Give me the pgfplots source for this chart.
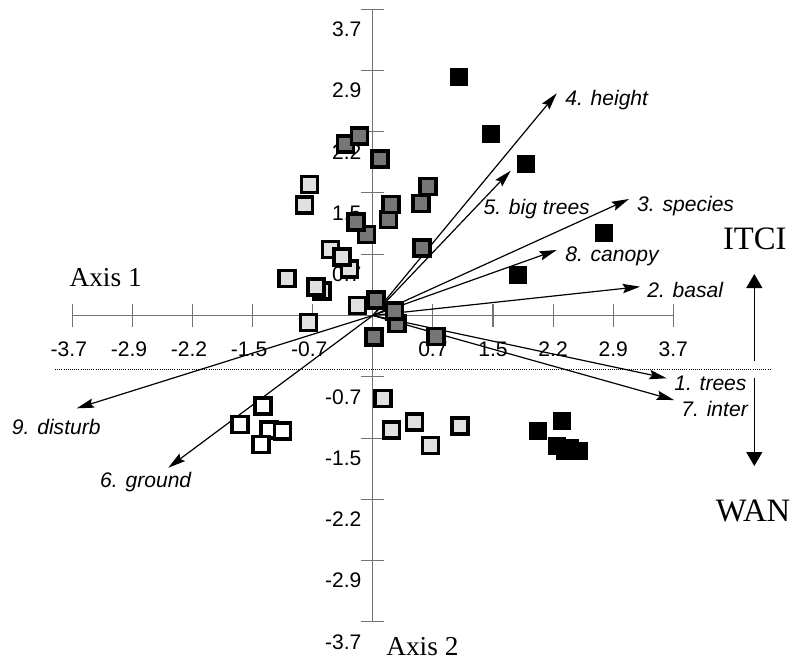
\documentclass[border=0pt]{standalone}
\usepackage{fontspec}
\setmainfont{Liberation Serif}
\setsansfont{Liberation Sans}
\usepackage{pgfplots}
\pgfplotsset{compat=1.18}
\usetikzlibrary{arrows.meta}

\begin{document}
\begin{tikzpicture}

\definecolor{axisgray}{RGB}{115,115,115}
\definecolor{darkstip}{RGB}{118,118,118}
\definecolor{lightstip}{RGB}{225,225,225}

\tikzset{
  lab/.style={font=\sffamily\itshape\fontsize{15.8}{18}\selectfont, inner sep=0pt},
  arr/.style={line width=0.9pt, -{Stealth[length=13pt,width=7pt,inset=2pt]}},
  bigarr/.style={line width=0.9pt, -{Triangle[length=10.5pt,width=12pt]}},
}

\begin{axis}[
x=60.9pt, y=62.1pt,
xmin=-3.7, xmax=3.7,
ymin=-3.7, ymax=3.7,
axis lines=middle,
axis line style={-, axisgray, line width=0.8pt},
clip=false,
tick align=center,
major tick length=17pt,
tick style={axisgray, line width=0.8pt},
xtick={-3.7,-2.96,-2.22,-1.48,-0.74,0.74,1.48,2.22,2.96,3.7},
xticklabels={\llap{-}3.7,\llap{-}2.9,\llap{-}2.2,\llap{-}1.5,\llap{-}0.7,0.7,1.5,2.2,2.9,3.7},
ytick={-3.7,-2.96,-2.22,-1.48,-0.74,0.74,1.48,2.22,2.96,3.7},
yticklabels={-3.7,-2.9,-2.2,-1.5,-0.7,0.7,1.5,2.2,2.9,3.7},
tick label style={font=\sffamily\fontsize{15.8}{18}\selectfont},
xticklabel style={anchor=north, yshift=-8pt},
yticklabel style={anchor=east, xshift=3.5pt, yshift=-15pt},
]

% page extent
\path (axis cs:-4.591,3.810) rectangle (axis cs:5.236,-4.185);

% dotted separator
\addplot [black, line width=0.6pt, dash pattern=on 0.7pt off 0.9pt]
coordinates {(-3.914,-0.650) (4.913,-0.650)};

% WAN sites, solid black
\addplot [only marks, mark=square*, mark size=6.3pt,
  mark options={fill=black, draw=black, line width=0.3pt}]
table {%
1.062 2.880
1.456 2.192
1.887 1.830
2.847 0.996
1.788 0.489
2.034 -1.389
2.330 -1.274
2.268 -1.576
2.367 -1.636
2.539 -1.636
2.420 -1.600
};

% open squares
\addplot [only marks, mark=square*, mark size=6pt,
  mark options={fill=white, draw=black, line width=2.4pt}]
table {%
-1.352 -1.093
-1.636 -1.316
-1.278 -1.383
-1.112 -1.395
-1.377 -1.558
};

% light stippled
\addplot [only marks, mark=square*, mark size=6pt,
  mark options={fill=lightstip, draw=black, line width=2.4pt}]
table {%
-0.780 1.582
-0.841 1.335
-0.521 0.797
-0.287 0.562
-0.379 0.707
-1.057 0.447
-0.626 0.296
-0.700 0.344
-0.188 0.121
-0.792 -0.085
0.126 -1.002
0.230 -1.383
0.514 -1.286
0.711 -1.570
1.074 -1.335
};

% dark stippled
\addplot [only marks, mark=square*, mark size=6pt,
  mark options={fill=darkstip, draw=black, line width=2.4pt}]
table {%
-0.336 2.071
-0.161 2.168
0.089 1.890
0.680 1.558
0.594 1.353
0.193 1.159
0.224 1.341
-0.078 0.978
-0.207 1.129
0.606 0.815
0.039 0.187
0.298 -0.097
0.267 0.054
0.015 -0.260
0.778 -0.254
};

% variable vectors
\addplot [arr] coordinates {(0,0) (2.265,2.684)};
\addplot [arr] coordinates {(0,0) (1.698,1.749)};
\addplot [arr] coordinates {(0,0) (3.155,1.407)};
\addplot [arr] coordinates {(0,0) (2.265,0.791)};
\addplot [arr] coordinates {(0,0) (3.291,0.348)};
\addplot [arr] coordinates {(0,0) (3.619,-0.758)};
\addplot [arr] coordinates {(0,0) (3.709,-1.021)};
\addplot [arr] coordinates {(0,0) (-3.647,-1.121)};
\addplot [arr] coordinates {(0,0) (-2.518,-1.838)};

\node [lab, anchor=base west] at (axis cs:2.367,2.530) {4. height};
\node [lab, anchor=base west] at (axis cs:1.361,1.214) {5. big trees};
\node [lab, anchor=base west] at (axis cs:3.253,1.254) {3. species};
\node [lab, anchor=base west] at (axis cs:2.367,0.650) {8. canopy};
\node [lab, anchor=base west] at (axis cs:3.377,0.220) {2. basal};
\node [lab, anchor=base east] at (axis cs:4.605,-0.908) {1. trees};
\node [lab, anchor=base east] at (axis cs:4.621,-1.214) {7. inter};
\node [lab, anchor=base west] at (axis cs:-4.447,-1.443) {9. disturb};
\node [lab, anchor=base west] at (axis cs:-3.360,-2.075) {6. ground};

% gradient arrows
\addplot [bigarr] coordinates {(4.698,-0.546) (4.698,0.501)};
\addplot [bigarr] coordinates {(4.698,-0.755) (4.698,-1.818)};

\node [font=\fontsize{24.5}{28}\selectfont, anchor=base] at (axis cs:4.704,0.791) {ITCI};
\node [font=\fontsize{24.5}{28}\selectfont, anchor=base] at (axis cs:4.682,-2.490) {WAN};
\node [font=\fontsize{20.5}{24}\selectfont, anchor=base west, inner sep=0pt] at (axis cs:-3.738,0.348) {Axis 1};
\node [font=\fontsize{20.5}{24}\selectfont, anchor=base west, inner sep=0pt] at (axis cs:0.163,-4.105) {Axis 2};

\end{axis}
\end{tikzpicture}
\end{document}
